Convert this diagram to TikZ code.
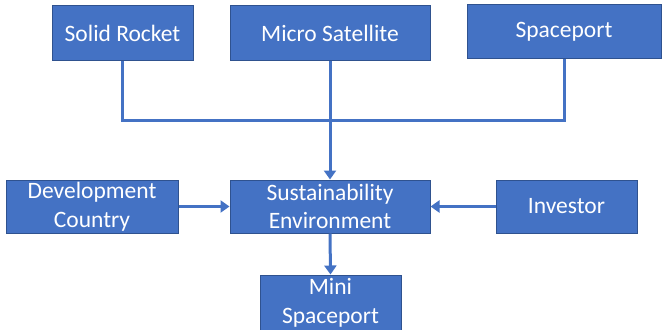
\documentclass[tikz,border=0pt]{standalone}
\usepackage{fontspec}
\setmainfont{Carlito}
\usetikzlibrary{arrows.meta}
\definecolor{boxfill}{HTML}{4472C4}
\definecolor{boxedge}{HTML}{2F528F}
\begin{document}
\begin{tikzpicture}[x=1pt,y=-1pt,
  box/.style={draw=boxedge,fill=boxfill,line width=1pt,text=white,align=center,
    inner sep=0pt,font=\fontsize{23.5}{28.5}\selectfont},
  conn/.style={draw=boxfill,line width=3pt},
  arr/.style={conn,-{Triangle[length=9pt,width=12pt]}}]
\useasboundingbox (0,0) rectangle (663,329);
\node[box,minimum width=141pt,minimum height=54pt] (sr) at (122.5,33) {Solid Rocket};
\node[box,minimum width=200pt,minimum height=54pt] (ms) at (330,33) {Micro Satellite};
\node[box,minimum width=194pt,minimum height=53pt] (sp) at (564,31.5) {Spaceport};
\node[box,minimum width=172pt,minimum height=53pt] (dc) at (92,206.5) {Development\\Country};
\node[box,minimum width=200pt,minimum height=53pt] (se) at (330,206.5) {Sustainability\\Environment};
\node[box,minimum width=141pt,minimum height=53pt] (iv) at (566.5,206.5) {Investor};
\node[box,minimum width=141pt,minimum height=56pt] (mn) at (330.5,303) {Mini\\Spaceport};
\coordinate (j) at (330,120);
\draw[conn] (sr.south) |- (j);
\draw[conn] (sp.south) |- (j);
\draw[arr] (ms.south) -- (se.north);
\draw[arr] (dc.east) -- (se.west);
\draw[arr] (iv.west) -- (se.east);
\draw[arr] (se.south) -- (mn.north);
\end{tikzpicture}
\end{document}
